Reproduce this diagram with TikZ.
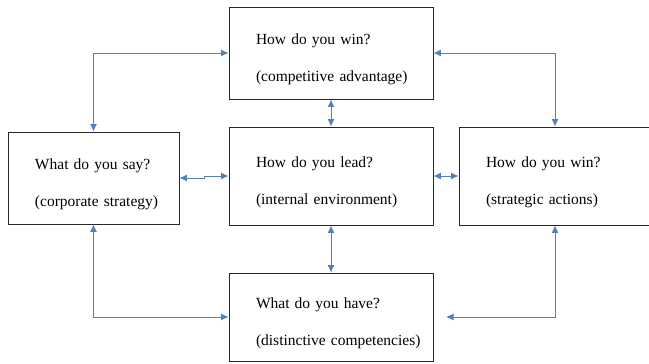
\documentclass[tikz,border=0pt]{standalone}
\usepackage{fontspec}
\setmainfont{Liberation Serif}
\usetikzlibrary{arrows.meta}
\usetikzlibrary{calc}
\definecolor{linkblue}{RGB}{79,129,189}
\tikzset{box/.style={draw=black!85, line width=0.9bp, align=left, inner xsep=27bp,
    font=\fontsize{15.5bp}{18.6bp}\selectfont}}
\tikzset{link/.style={linkblue, line width=0.9bp, {Latex[length=7.5bp,width=7bp]}-{Latex[length=7.5bp,width=7bp]}}}

\begin{document}
\begin{tikzpicture}[x=1bp,y=-1bp]
            \useasboundingbox (0,0) rectangle (649,363);
            \node[box, text width=150bp, minimum height=92bp] (win) at (331,53) {\rule{0pt}{23bp}\mbox{How do you win?}\\[18.5bp]\mbox{(competitive advantage)}};
            \node[box, text width=150bp, minimum height=98bp] (lead) at (331,176) {\rule{0pt}{23bp}\mbox{How do you lead?}\\[18.5bp]\mbox{(internal environment)}};
            \node[box, text width=117bp, minimum height=92bp] (say) at (93.5,178) {\rule{0pt}{23bp}\mbox{What do you say?}\\[18.5bp]\mbox{(corporate strategy)}};
            \node[box, text width=138bp, minimum height=98bp] (act) at (555,176) {\rule{0pt}{23bp}\mbox{How do you win?}\\[18.5bp]\mbox{(strategic actions)}};
            \node[box, text width=150bp, minimum height=88bp] (have) at (331,317) {\rule{0pt}{23bp}\mbox{What do you have?}\\[18.5bp]\mbox{(distinctive competencies)}};
            \coordinate (haveGap) at (446,317);
            \draw[link] (win.west) -| (say.north);
            \draw[link] (have.west) -| (say.south);
            \draw[link] (win.east) -| (act.north);
            \draw[link] (act.south) |- (haveGap);
            \draw[link] (win.south) -- (lead.north);
            \draw[link] (lead.south) -- (have.north);
            \draw[link] (say.east) -- ++(25,0) |- (lead.west);
            \draw[link] (lead.east) -- (act.west);
        \end{tikzpicture}
\end{document}
